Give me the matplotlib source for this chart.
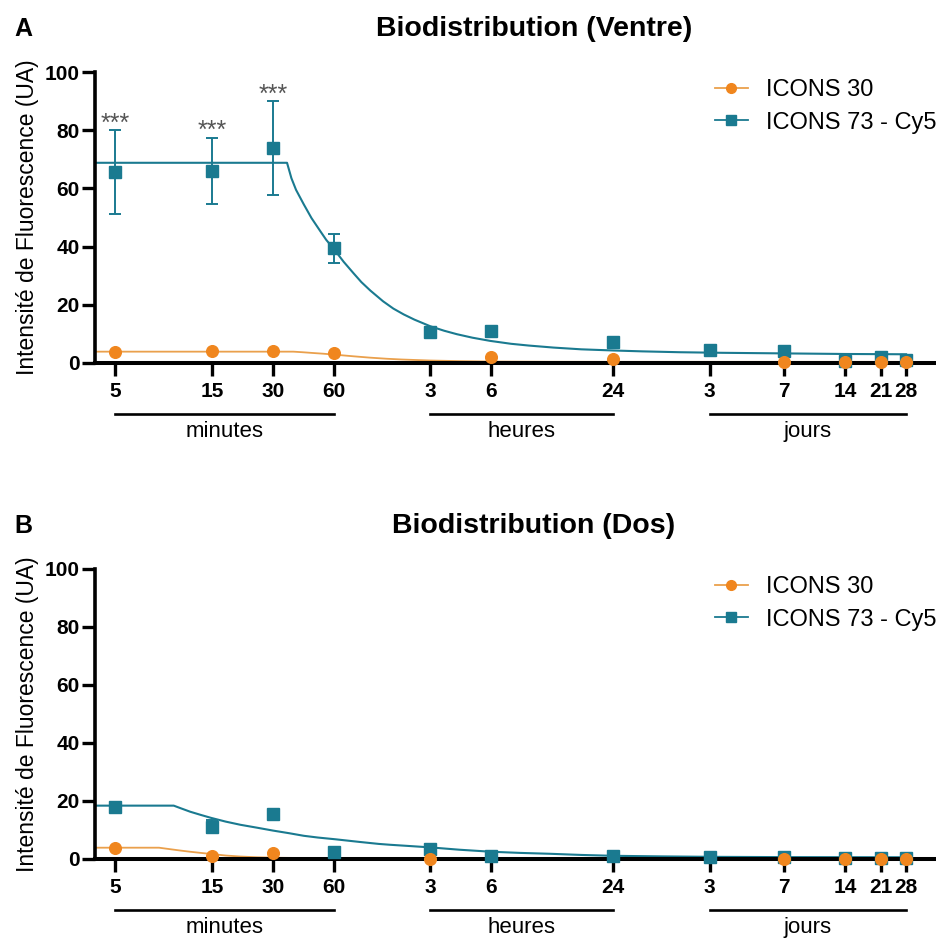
import numpy as np
import matplotlib
matplotlib.use("Agg")
import matplotlib.pyplot as plt
from matplotlib.ticker import NullLocator
from matplotlib.lines import Line2D
import matplotlib.transforms as mtransforms

plt.rcParams['font.family'] = ['Liberation Sans', 'DejaVu Sans']

nan = np.nan

# ---------------- data ----------------
time_min = [5, 15, 30, 60, 180, 360, 1440, 4320, 10080, 20160, 30240, 40320]
tick_labels = ['5', '15', '30', '60', '3', '6', '24', '3', '7', '14', '21', '28']

group_names = ['minutes', 'heures', 'jours']
group_start = [5, 180, 4320]
group_end = [60, 1440, 40320]

series_names = ['ICONS 30', 'ICONS 73 - Cy5']

# Panel A : Ventre
ventre_icons30 = [3.9, 4.2, 4.1, 3.3, nan, 2.0, 1.4, nan, 0.3, 0.3, 0.3, 0.3]
ventre_icons73 = [65.6, 66.0, 73.9, 39.4, 10.5, 11.0, 7.1, 4.5, 4.2, 0.7, 2.0, 1.0]
ventre_icons73_sd = [14.3, 11.3, 16.0, 5.0, 0, 0, 0, 0, 0, 0, 0, 0]
ventre_stars = ['***', '***', '***', '', '', '', '', '', '', '', '', '']

# fitted curves
ventre_fit73_t = [4, 35.2, 37, 39, 42.6, 46.5, 51.4, 55, 59.8, 67, 75.1, 82, 90.8,
                  105, 118, 132.7, 150, 180, 210, 243, 290, 355, 450, 550, 730,
                  1000, 1440, 2000, 3083, 5000, 10080, 20000, 40320]
ventre_fit73_y = [68.8, 68.8, 63.5, 59.5, 54.5, 49.8, 45.3, 42.3, 39.3, 34.8, 30.8,
                  27.8, 24.9, 21.2, 18.7, 16.7, 14.9, 12.6, 11.1, 9.9, 8.7, 7.6,
                  6.6, 6.0, 5.3, 4.7, 4.3, 4.0, 3.7, 3.5, 3.3, 3.1, 3.0]
ventre_fit30_t = [4, 37.8, 42, 47, 53, 60, 67, 75, 90, 110, 130, 180, 250, 360,
                  700, 1440, 40320]
ventre_fit30_y = [3.9, 3.9, 3.7, 3.45, 3.2, 2.9, 2.6, 2.3, 1.85, 1.45, 1.2, 0.85,
                  0.65, 0.5, 0.42, 0.4, 0.4]

# Panel B : Dos
dos_icons30 = [3.7, 1.1, 2.0, nan, 0.05, nan, nan, nan, 0.1, 0.1, 0.1, 0.1]
dos_icons73 = [18.0, 11.1, 15.4, 2.3, 3.3, 1.1, 1.0, 0.8, 0.6, 0.4, 0.4, 0.4]
dos_icons73_sd = [0, 2.2, 0, 0, 0, 0, 0, 0, 0, 0, 0, 0]
dos_stars = [''] * 12

dos_fit73_t = [4, 9.7, 10.5, 11.7, 13.2, 14.8, 17.5, 20.7, 25, 30, 36, 42.6, 50,
               61, 80, 100, 114, 140, 180, 250, 360, 500, 700, 1000, 1440, 2500,
               4320, 10000, 40320]
dos_fit73_y = [18.4, 18.4, 17.5, 16.3, 15.2, 14.2, 12.9, 11.8, 10.8, 9.8, 8.9,
               8.0, 7.4, 6.8, 5.9, 5.2, 4.9, 4.5, 4.0, 3.2, 2.5, 2.1, 1.8, 1.4,
               1.1, 0.9, 0.75, 0.65, 0.6]
dos_fit30_t = [4, 8.2, 9.5, 10.5, 11.7, 13.2, 15, 17.5, 20.7, 25, 30, 40, 60, 40320]
dos_fit30_y = [3.9, 3.9, 3.3, 2.9, 2.5, 2.1, 1.7, 1.2, 0.85, 0.6, 0.45, 0.35,
               0.3, 0.3]

# ---------------- style ----------------
ORANGE = '#F0861E'
ORANGE_LINE = '#EAA04C'
TEAL = '#1A7A90'

W, H = 937, 940
fig = plt.figure(figsize=(W / 100, H / 100), dpi=100)

left = 95 / W
width = 1 - left


def panel(bottom_px, top_px, letter, title, y30, y73, sd73, stars,
          f73t, f73y, f30t, f30y):
    ax = fig.add_axes([left, 1 - bottom_px / H, width, (bottom_px - top_px) / H])
    ax.set_xscale('log')
    ax.set_xlim(3.96, 57290)
    ax.set_ylim(0, 100)

    # curves
    ax.plot(f73t, f73y, color=TEAL, lw=1.5, zorder=2, clip_on=False,
            solid_joinstyle='round')
    ax.plot(f30t, f30y, color=ORANGE_LINE, lw=1.3, zorder=2, clip_on=False,
            solid_joinstyle='round')

    # points
    ax.errorbar(time_min, y73, yerr=sd73, fmt='s', color=TEAL, ms=8.6,
                ecolor=TEAL, elinewidth=1.4, capsize=4.5, capthick=1.4,
                zorder=4, clip_on=False)
    ax.plot(time_min, y30, 'o', color=ORANGE, ms=8.4, zorder=5, clip_on=False)

    for t, y, s, st in zip(time_min, y73, sd73, stars):
        if st:
            ax.text(t, y + s, st, ha='center', va='baseline', fontsize=18,
                    color='#555555')

    # axes style
    for s in ['top', 'right']:
        ax.spines[s].set_visible(False)
    ax.spines['left'].set_linewidth(2.6)
    ax.spines['bottom'].set_linewidth(2.9)
    ax.spines['bottom'].set_zorder(3)
    ax.set_xticks(time_min)
    ax.set_xticklabels(tick_labels)
    ax.xaxis.set_minor_locator(NullLocator())
    ax.set_yticks([0, 20, 40, 60, 80, 100])
    ax.tick_params(axis='both', which='major', width=2.4, labelsize=15,
                   color='black')
    ax.tick_params(axis='x', length=9, pad=5)
    ax.tick_params(axis='y', length=9.5, pad=1.5)
    for lab in ax.get_xticklabels() + ax.get_yticklabels():
        lab.set_fontweight('bold')
    ax.set_ylabel('Intensité de Fluorescence (UA)', fontsize=16.5, labelpad=4)

    # group brackets
    trans = mtransforms.blended_transform_factory(ax.transData, ax.transAxes)
    for name, a, b in zip(group_names, group_start, group_end):
        ax.plot([a, b], [-0.176, -0.176], color='black', lw=1.9,
                transform=trans, clip_on=False)
        xm = np.sqrt(a * b)
        ax.text(xm, -0.236, name, transform=trans, ha='center', va='center',
                fontsize=16)

    # titles
    ax.text(0.5214, 1.125, title, transform=ax.transAxes, ha='center',
            va='baseline', fontsize=20.5, fontweight='bold')
    ax.text(-0.0855, 1.125, letter, transform=ax.transAxes, ha='center',
            va='baseline', fontsize=18, fontweight='bold')

    # legend
    handles = [
        Line2D([], [], color=ORANGE_LINE, lw=1.3, marker='o', ms=7,
               markerfacecolor=ORANGE, markeredgecolor=ORANGE),
        Line2D([], [], color=TEAL, lw=1.3, marker='s', ms=6.5,
               markerfacecolor=TEAL, markeredgecolor=TEAL),
    ]
    ax.legend(handles, series_names, loc='upper left',
              bbox_to_anchor=(0.7363, 0.976), frameon=False, fontsize=17,
              borderpad=0, borderaxespad=0, handlelength=1.4,
              handletextpad=0.75, labelspacing=0.45)
    return ax


panel(363, 72, 'A', 'Biodistribution (Ventre)', ventre_icons30, ventre_icons73,
      ventre_icons73_sd, ventre_stars, ventre_fit73_t, ventre_fit73_y,
      ventre_fit30_t, ventre_fit30_y)
panel(859, 569, 'B', 'Biodistribution (Dos)', dos_icons30, dos_icons73,
      dos_icons73_sd, dos_stars, dos_fit73_t, dos_fit73_y,
      dos_fit30_t, dos_fit30_y)

fig.savefig('out.png', dpi=100)
